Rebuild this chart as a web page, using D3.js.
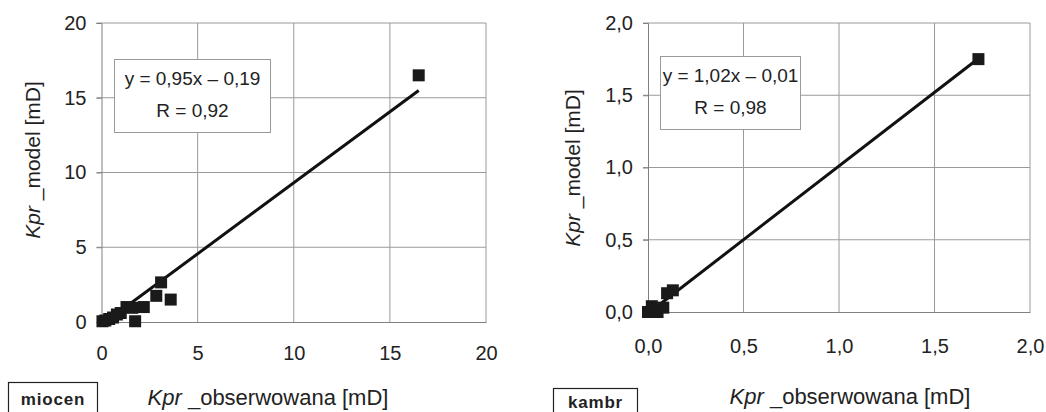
<!DOCTYPE html>
<html>
<head>
<meta charset="utf-8">
<script src="https://cdn.jsdelivr.net/npm/d3@7"></script>
<style>
  body { margin: 0; background: #fff; }
  svg { font-family: "Liberation Sans", Arial, sans-serif; }
</style>
</head>
<body>
<svg id="chart" width="1046" height="412"></svg>
<script>
// miocen panel
const miocenX = [0.05, 0.2, 0.4, 0.6, 0.8, 1.0, 1.3, 1.6, 2.2, 1.75, 2.85, 3.1, 3.6, 16.5];
const miocenY = [0.05, 0.1, 0.2, 0.3, 0.5, 0.6, 1.0, 0.95, 1.0, 0.05, 1.75, 2.65, 1.5, 16.5];
const miocenTicks = [0, 5, 10, 15, 20];
const miocenFit = { a: 0.95, b: -0.19, from: 0.2, to: 16.5 };

// kambr panel
const kambrX = [0.0, 0.02, 0.05, 0.08, 0.1, 0.13, 1.73];
const kambrY = [0.0, 0.04, 0.0, 0.03, 0.13, 0.15, 1.75];
const kambrTicks = [0, 0.5, 1.0, 1.5, 2.0];
const kambrFit = { a: 1.02, b: -0.01, from: 0.02, to: 1.73 };

const svg = d3.select('#chart');

function drawPanel(opt){
    const x = d3.scaleLinear().domain([0, opt.max]).range([opt.left, opt.right]);
    const y = d3.scaleLinear().domain([0, opt.max]).range([opt.bottom, opt.top]);
    const g = svg.append('g');

    // grid
    g.selectAll('.vg').data(opt.ticks.slice(1)).enter().append('line')
        .attr('x1', d => x(d)).attr('x2', d => x(d))
        .attr('y1', opt.top).attr('y2', opt.bottom)
        .attr('stroke', '#9a9a9a').attr('stroke-width', 1);
    g.selectAll('.hg').data(opt.ticks.slice(1)).enter().append('line')
        .attr('x1', opt.left - 5).attr('x2', opt.right)
        .attr('y1', d => y(d)).attr('y2', d => y(d))
        .attr('stroke', '#9a9a9a').attr('stroke-width', 1);

    // axes
    const ya = d3.axisLeft(y).tickValues(opt.ticks).tickFormat(opt.fmt).tickSize(5).tickPadding(10);
    const xa = d3.axisBottom(x).tickValues(opt.ticks).tickFormat(opt.fmt).tickSize(0).tickPadding(opt.xpad);
    const gy = g.append('g').attr('transform', `translate(${opt.left},0)`).call(ya);
    const gx = g.append('g').attr('transform', `translate(0,${opt.bottom})`).call(xa);
    [gy, gx].forEach(a => {
        a.select('.domain').attr('stroke', '#808080');
        a.selectAll('line').attr('stroke', '#808080');
        a.selectAll('text').attr('font-size', 20).attr('fill', '#222')
            .attr('font-family', '"Liberation Sans", Arial, sans-serif');
    });

    // regression line
    g.append('line')
        .attr('x1', x(opt.fit.from)).attr('y1', y(opt.fit.a * opt.fit.from + opt.fit.b))
        .attr('x2', x(opt.fit.to)).attr('y2', y(opt.fit.a * opt.fit.to + opt.fit.b))
        .attr('stroke', '#111').attr('stroke-width', 3);

    // markers
    const s = 12;
    g.selectAll('.pt').data(opt.xs.map((v, i) => [v, opt.ys[i]])).enter().append('rect')
        .attr('x', d => x(d[0]) - s / 2).attr('y', d => y(d[1]) - s / 2)
        .attr('width', s).attr('height', s).attr('fill', '#1a1a1a');

    // equation box
    g.append('rect').attr('x', opt.eq.x).attr('y', opt.eq.y)
        .attr('width', opt.eq.w).attr('height', opt.eq.h)
        .attr('fill', '#fff').attr('stroke', '#9a9a9a');
    g.append('text').attr('x', opt.eq.x + opt.eq.w / 2).attr('y', opt.eq.y + 25)
        .attr('text-anchor', 'middle').attr('font-size', 19).attr('fill', '#222')
        .text(opt.eq.l1);
    g.append('text').attr('x', opt.eq.x + opt.eq.w / 2).attr('y', opt.eq.y + 57)
        .attr('text-anchor', 'middle').attr('font-size', 19).attr('fill', '#222')
        .text(opt.eq.l2);

    // axis titles
    const yt = g.append('text').attr('transform', `translate(${opt.ylx},${opt.yly}) rotate(-90)`)
        .attr('text-anchor', 'middle').attr('font-size', 21).attr('fill', '#222');
    yt.append('tspan').attr('font-style', 'italic').text('Kpr');
    yt.append('tspan').text(' _model [mD]');

    const xt = g.append('text').attr('x', opt.xlx).attr('y', opt.xly)
        .attr('text-anchor', 'middle').attr('font-size', 22).attr('fill', '#222');
    xt.append('tspan').attr('font-style', 'italic').text('Kpr');
    xt.append('tspan').text(' _obserwowana [mD]');

    // formation tag
    g.append('rect').attr('x', opt.tag.x).attr('y', opt.tag.y)
        .attr('width', opt.tag.w).attr('height', 40)
        .attr('fill', 'none').attr('stroke', '#222').attr('stroke-width', 1.2);
    g.append('text').attr('x', opt.tag.x + opt.tag.w / 2).attr('y', opt.tag.ty)
        .attr('text-anchor', 'middle').attr('font-size', 17).attr('font-weight', 'bold')
        .attr('letter-spacing', 0.8).attr('fill', '#222').text(opt.tag.name);
}

drawPanel({
    xs: miocenX, ys: miocenY, ticks: miocenTicks, fit: miocenFit, max: 20,
    left: 101.5, right: 486, top: 23, bottom: 322, xpad: 24,
    fmt: d3.format('d'),
    eq: { x: 114.5, y: 59.5, w: 156, h: 73, l1: 'y = 0,95x \u2013 0,19', l2: 'R = 0,92' },
    ylx: 40, yly: 160, xlx: 268, xly: 405,
    tag: { x: 8.5, y: 382.5, w: 89, ty: 405, name: 'miocen' }
});

drawPanel({
    xs: kambrX, ys: kambrY, ticks: kambrTicks, fit: kambrFit, max: 2,
    left: 648, right: 1030, top: 23, bottom: 312, xpad: 27,
    fmt: d => d3.format('.1f')(d).replace('.', ','),
    eq: { x: 660.5, y: 56.5, w: 140, h: 73, l1: 'y = 1,02x \u2013 0,01', l2: 'R = 0,98' },
    ylx: 580, yly: 168, xlx: 850, xly: 404,
    tag: { x: 553.5, y: 388.5, w: 84, ty: 408, name: 'kambr' }
});
</script>
</body>
</html>
